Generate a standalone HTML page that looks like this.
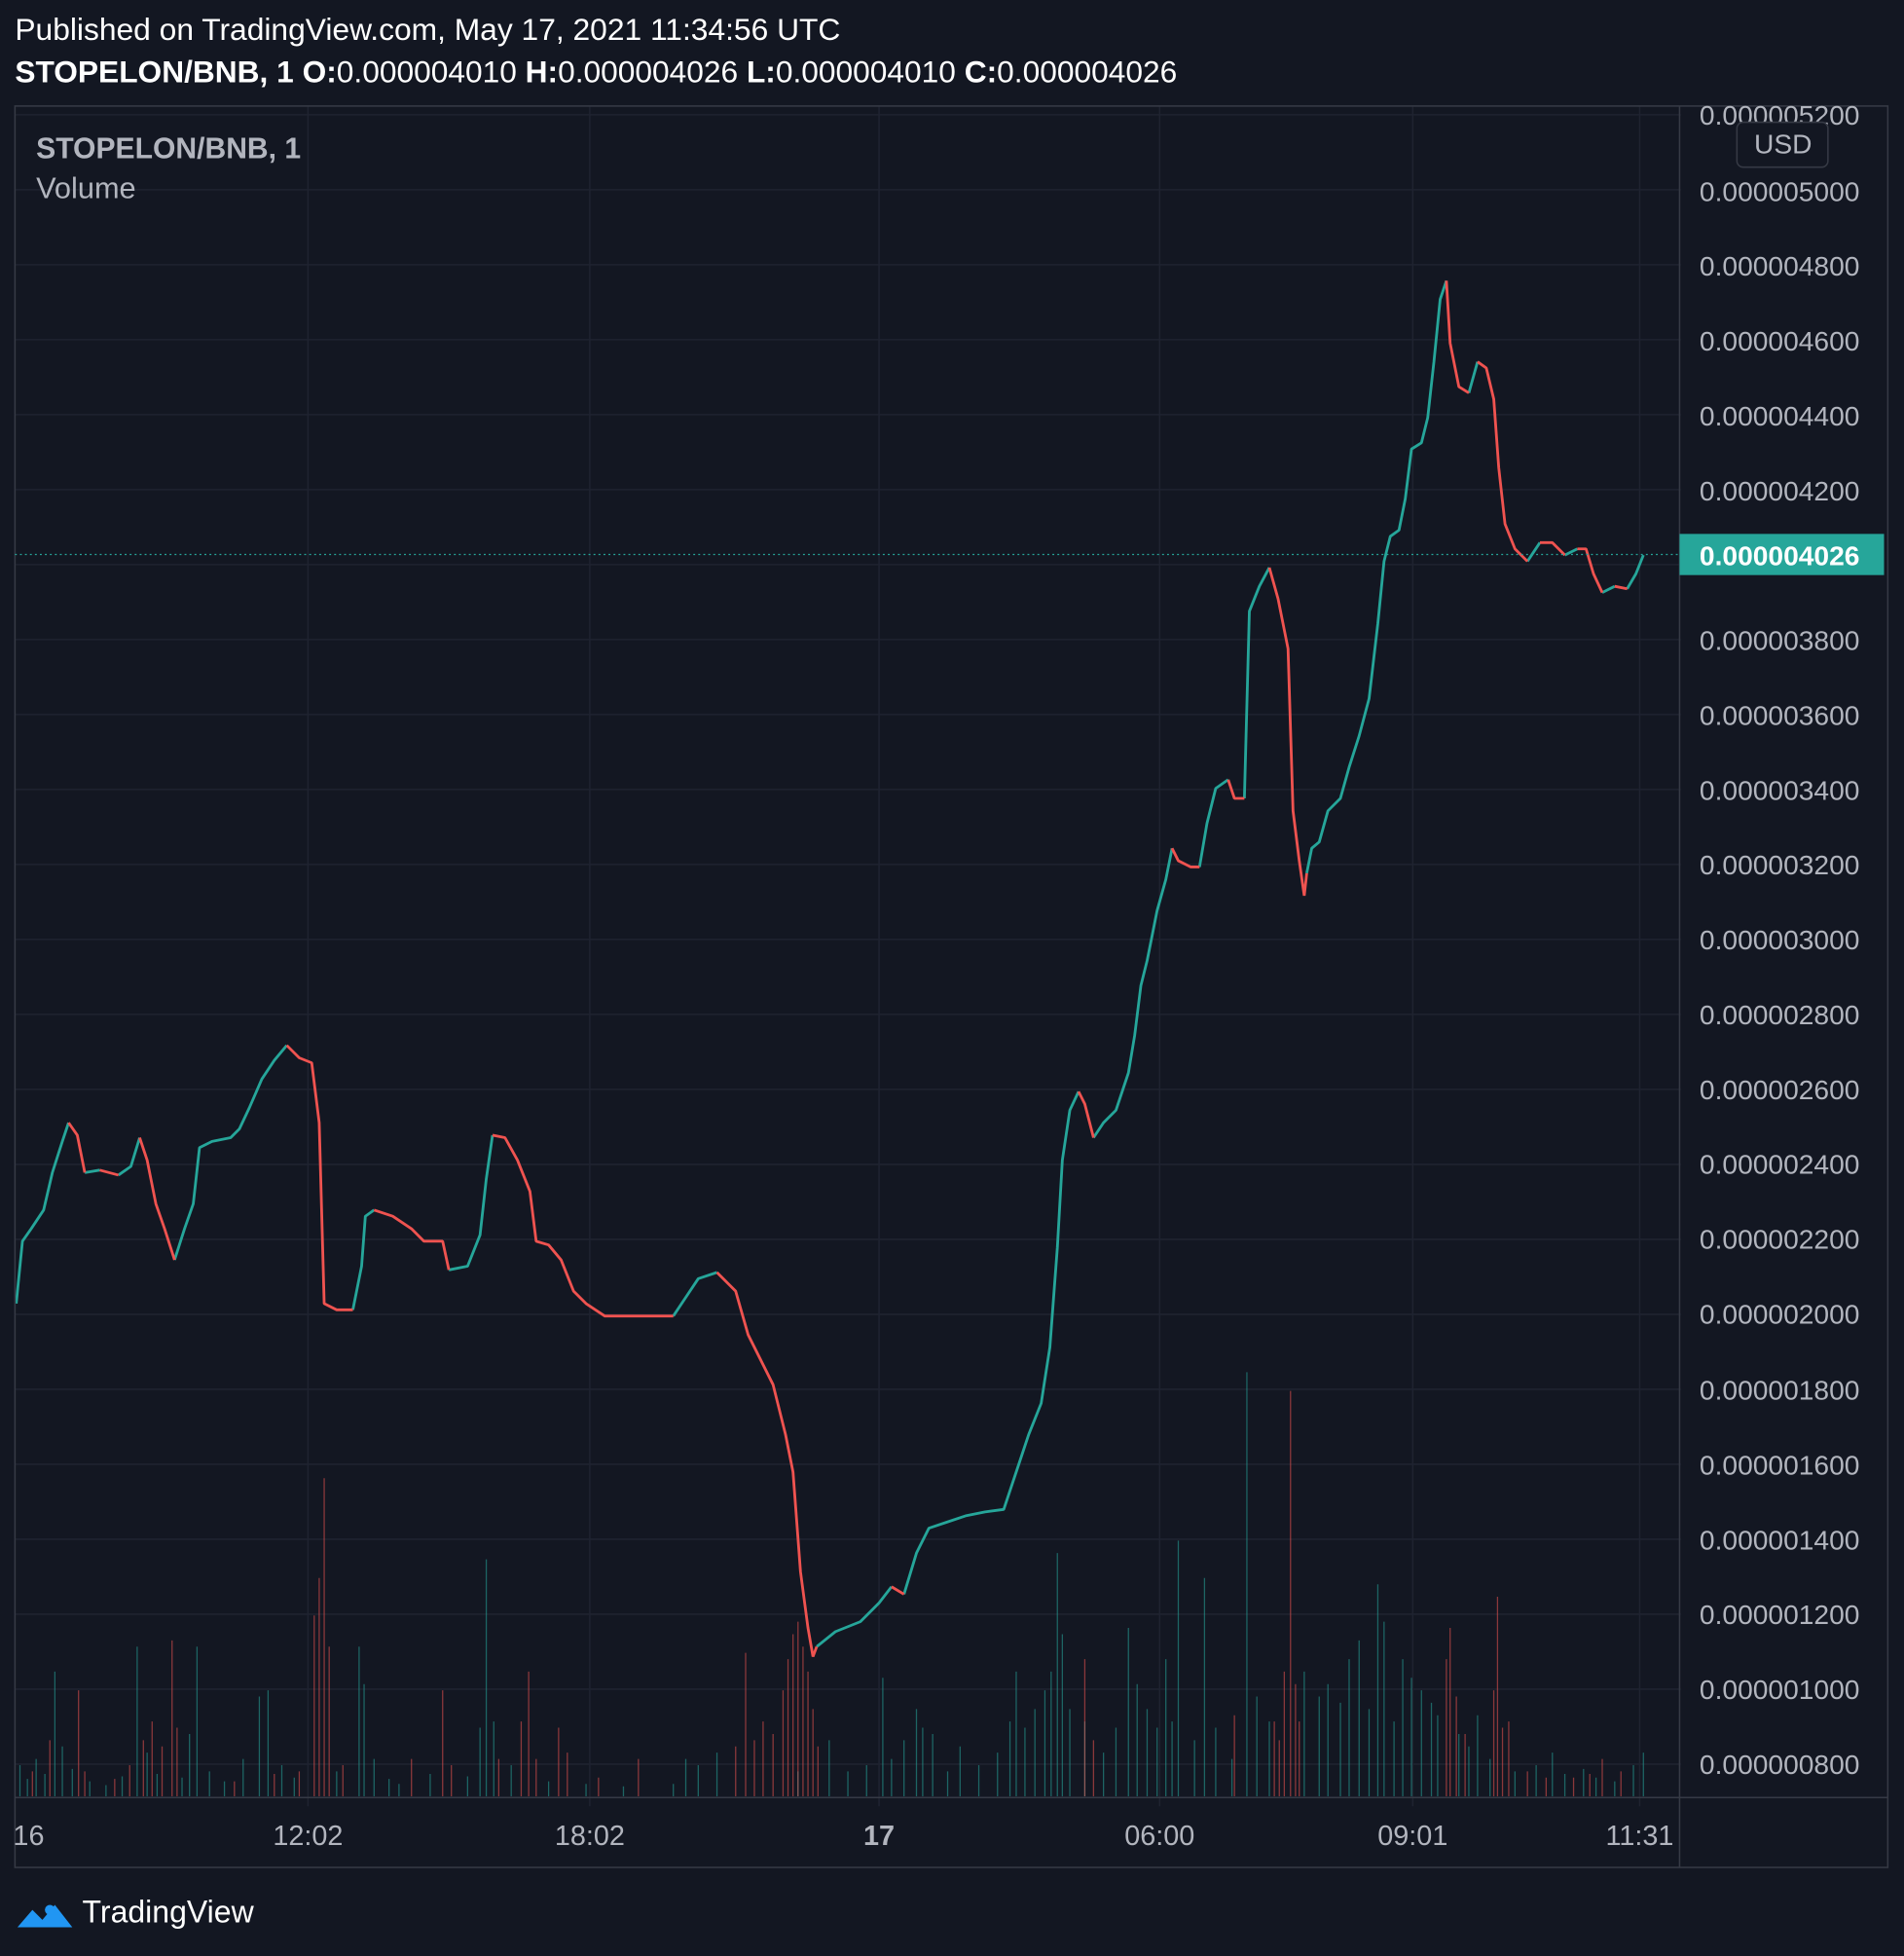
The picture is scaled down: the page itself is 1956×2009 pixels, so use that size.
<!DOCTYPE html>
<html><head><meta charset="utf-8"><style>
html,body{margin:0;padding:0;background:#131722;}
svg{display:block;}
text{font-family:"Liberation Sans",sans-serif;}
</style></head><body>
<svg width="1956" height="2009" viewBox="0 0 1527 1568" preserveAspectRatio="none" xmlns="http://www.w3.org/2000/svg">
<rect width="1527" height="1568" fill="#131722"/>
<text x="12" y="32" font-size="24.7" fill="#ffffff" textLength="662" lengthAdjust="spacingAndGlyphs">Published on TradingView.com, May 17, 2021 11:34:56 UTC</text>
<text x="12" y="66" font-size="24.7" fill="#ffffff" textLength="932" lengthAdjust="spacingAndGlyphs"><tspan font-weight="bold">STOPELON/BNB, 1 O:</tspan>0.000004010 <tspan font-weight="bold">H:</tspan>0.000004026 <tspan font-weight="bold">L:</tspan>0.000004010 <tspan font-weight="bold">C:</tspan>0.000004026</text>
<g stroke="#1f2330" stroke-width="1.2">
<path d="M12,92H1356M12,152.1H1356M12,212.2H1356M12,272.3H1356M12,332.4H1356M12,392.5H1356M12,452.6H1356M12,512.7H1356M12,572.8H1356M12,632.9H1356M12,693H1356M12,753.1H1356M12,813.2H1356M12,873.3H1356M12,933.4H1356M12,993.5H1356M12,1053.6H1356M12,1113.7H1356M12,1173.8H1356M12,1233.9H1356M12,1294H1356M12,1354.1H1356M12,1414.2H1356"/>
<path d="M247,85V1448M473,85V1448M705,85V1448M930,85V1448M1133,85V1448M1315,85V1448"/>
</g>
<g stroke-width="1" fill="none">
<path stroke="rgba(38,166,154,0.55)" d="M16,1440v-25M22,1440v-14M29,1440v-30M36,1440v-18M44,1440v-100M50,1440v-40M58,1440v-22M72,1440v-12M85,1440v-9M98,1440v-16M110,1440v-120M118,1440v-35M126,1440v-18M146,1440v-15M152,1440v-50M158,1440v-120M168,1440v-20M180,1440v-12M195,1440v-30M208,1440v-80M215,1440v-85M226,1440v-25M236,1440v-15M270,1440v-20M288,1440v-120M292,1440v-90M300,1440v-30M312,1440v-14M320,1440v-10M345,1440v-18M375,1440v-16M385,1440v-55M390,1440v-190M396,1440v-60M410,1440v-25M440,1440v-12M470,1440v-10M500,1440v-8M540,1440v-10M550,1440v-30M560,1440v-25M575,1440v-35M640,1440v-20M665,1440v-45M680,1440v-20M695,1440v-25M708,1440v-95M715,1440v-30M725,1440v-45M735,1440v-70M740,1440v-55M748,1440v-50M760,1440v-20M770,1440v-40M785,1440v-25M800,1440v-35M810,1440v-60M815,1440v-100M822,1440v-55M830,1440v-70M838,1440v-85M843,1440v-100M848,1440v-195M852,1440v-130M858,1440v-70M870,1440v-60M885,1440v-35M895,1440v-55M905,1440v-135M912,1440v-90M920,1440v-70M928,1440v-55M935,1440v-110M940,1440v-60M945,1440v-205M958,1440v-45M966,1440v-175M975,1440v-55M988,1440v-30M1000,1440v-340M1008,1440v-80M1018,1440v-60M1046,1440v-100M1058,1440v-80M1065,1440v-90M1075,1440v-75M1082,1440v-110M1090,1440v-125M1098,1440v-70M1105,1440v-170M1110,1440v-140M1118,1440v-60M1125,1440v-110M1132,1440v-95M1140,1440v-85M1148,1440v-75M1153,1440v-65M1170,1440v-50M1178,1440v-40M1185,1440v-65M1195,1440v-30M1215,1440v-20M1232,1440v-25M1245,1440v-35M1255,1440v-18M1270,1440v-22M1280,1440v-15M1295,1440v-12M1310,1440v-25M1318,1440v-35"/>
<path stroke="rgba(239,83,80,0.55)" d="M26,1440v-20M40,1440v-45M63,1440v-85M68,1440v-20M92,1440v-14M104,1440v-25M115,1440v-45M122,1440v-60M130,1440v-40M138,1440v-125M142,1440v-55M188,1440v-12M220,1440v-18M240,1440v-20M252,1440v-145M256,1440v-175M260,1440v-255M264,1440v-120M275,1440v-25M330,1440v-30M355,1440v-85M362,1440v-25M400,1440v-30M418,1440v-60M424,1440v-100M430,1440v-30M448,1440v-55M455,1440v-35M480,1440v-15M512,1440v-30M590,1440v-40M598,1440v-115M605,1440v-45M612,1440v-60M620,1440v-50M628,1440v-85M632,1440v-110M636,1440v-130M640,1440v-140M644,1440v-120M648,1440v-100M652,1440v-70M656,1440v-40M870,1440v-110M877,1440v-45M990,1440v-65M1022,1440v-60M1026,1440v-45M1030,1440v-100M1035,1440v-325M1039,1440v-90M1042,1440v-60M1160,1440v-110M1163,1440v-135M1168,1440v-80M1175,1440v-50M1198,1440v-85M1201,1440v-160M1205,1440v-55M1210,1440v-60M1225,1440v-20M1240,1440v-15M1262,1440v-15M1275,1440v-18M1285,1440v-30M1300,1440v-20"/>
</g>
<g fill="none" stroke-width="2.2" stroke-linejoin="bevel">
<path stroke="#26a69a" d="M13,1045L18,995L25,985L35,970L42,940L50,915L55,900M68,940L80,938M95,942L105,935L112,912M140,1010L148,985L155,965L160,920L170,915L185,912L192,905L200,888L210,865L220,850L230,838M283,1050L290,1015L293,975L300,970M360,1018L375,1015L385,990L390,945L395,910M540,1055L550,1040L560,1025L575,1020M655,1320L670,1308L690,1300L705,1285L715,1272M725,1278L735,1245L745,1225L760,1220L775,1215L790,1212L805,1210L815,1180L825,1150L835,1125L842,1080L848,1000L852,930L858,890L865,875M877,912L885,900L895,890L905,860L910,830L915,790L920,770L928,730L935,705L940,680M962,695L968,660L975,632L985,625M998,640L1002,490L1010,470L1018,455M1048,700L1052,680L1058,675L1065,650L1075,640L1082,615L1090,590L1098,560L1105,500L1110,450L1115,430L1122,425L1127,400L1132,360L1140,355L1145,335L1150,290L1155,240L1160,225M1178,315L1185,290M1225,450L1235,435M1255,445L1265,440M1285,475L1295,470M1305,472L1312,460L1318,445"/>
<path stroke="#ef5350" d="M55,900L62,910L68,940M80,938L95,942M112,912L118,930L125,965L132,985L140,1010M230,838L240,848L250,852L256,900L260,1045L270,1050L283,1050M300,970L315,975L330,985L340,995L355,995L360,1018M395,910L405,912L415,930L425,955L430,995L440,998L450,1010L460,1035L470,1045L485,1055L500,1055L520,1055L540,1055M575,1020L590,1035L600,1070L610,1090L620,1110L630,1150L636,1180L642,1260L648,1305L652,1328L655,1320M715,1272L725,1278M865,875L870,885L877,912M940,680L945,690L955,695L962,695M985,625L990,640L998,640M1018,455L1025,480L1033,520L1037,650L1042,690L1046,718L1048,700M1160,225L1163,275L1170,310L1178,315M1185,290L1192,295L1198,320L1202,375L1207,420L1215,440L1225,450M1235,435L1245,435L1255,445M1265,440L1272,440L1278,460L1285,475M1295,470L1305,472"/>
</g>
<rect x="12" y="85" width="1502" height="1412" fill="none" stroke="#363a45" stroke-width="1.2"/>
<rect x="1348" y="86" width="165" height="1354" fill="#131722"/>
<line x1="1347" y1="85" x2="1347" y2="1497" stroke="#363a45" stroke-width="1.2"/>
<line x1="12" y1="1441" x2="1514" y2="1441" stroke="#363a45" stroke-width="1.2"/>
<line x1="12" y1="444.5" x2="1347" y2="444.5" stroke="#26a69a" stroke-width="1" stroke-dasharray="1.5,2.5"/>
<g font-size="22" fill="#b2b5be">
<text x="1363" y="100">0.000005200</text><text x="1363" y="161">0.000005000</text><text x="1363" y="221">0.000004800</text><text x="1363" y="281">0.000004600</text><text x="1363" y="341">0.000004400</text><text x="1363" y="401">0.000004200</text><text x="1363" y="521">0.000003800</text><text x="1363" y="581">0.000003600</text><text x="1363" y="641">0.000003400</text><text x="1363" y="701">0.000003200</text><text x="1363" y="761">0.000003000</text><text x="1363" y="821">0.000002800</text><text x="1363" y="881">0.000002600</text><text x="1363" y="941">0.000002400</text><text x="1363" y="1001">0.000002200</text><text x="1363" y="1061">0.000002000</text><text x="1363" y="1122">0.000001800</text><text x="1363" y="1182">0.000001600</text><text x="1363" y="1242">0.000001400</text><text x="1363" y="1302">0.000001200</text><text x="1363" y="1362">0.000001000</text><text x="1363" y="1422">0.000000800</text>
</g>
<rect x="1393" y="98" width="73" height="36" rx="5" fill="#131722" stroke="#363a45" stroke-width="1.2"/>
<text x="1430" y="123" font-size="22" fill="#b2b5be" text-anchor="middle">USD</text>
<rect x="1347" y="428" width="164" height="33" fill="#26a69a"/>
<text x="1363" y="453" font-size="22" font-weight="bold" fill="#ffffff">0.000004026</text>
<text x="29" y="127" font-size="23.5" font-weight="bold" fill="#b2b5be">STOPELON/BNB, 1</text>
<text x="29" y="159" font-size="24" fill="#b2b5be">Volume</text>
<g font-size="22.5" fill="#b2b5be" text-anchor="middle">
<text x="23" y="1479">16</text><text x="247" y="1479">12:02</text><text x="473" y="1479">18:02</text>
<text x="705" y="1479" font-weight="bold">17</text><text x="930" y="1479">06:00</text><text x="1133" y="1479">09:01</text><text x="1315" y="1479">11:31</text>
</g>
<g transform="translate(12,1517)">
<path d="M2,28 L14,14 L22,22 L32,10 L46,28 Z" fill="#2196f3"/>
<circle cx="28" cy="14" r="4" fill="#2196f3"/>
</g>
<text x="66" y="1541" font-size="25" fill="#ffffff">TradingView</text>
</svg>
</body></html>
